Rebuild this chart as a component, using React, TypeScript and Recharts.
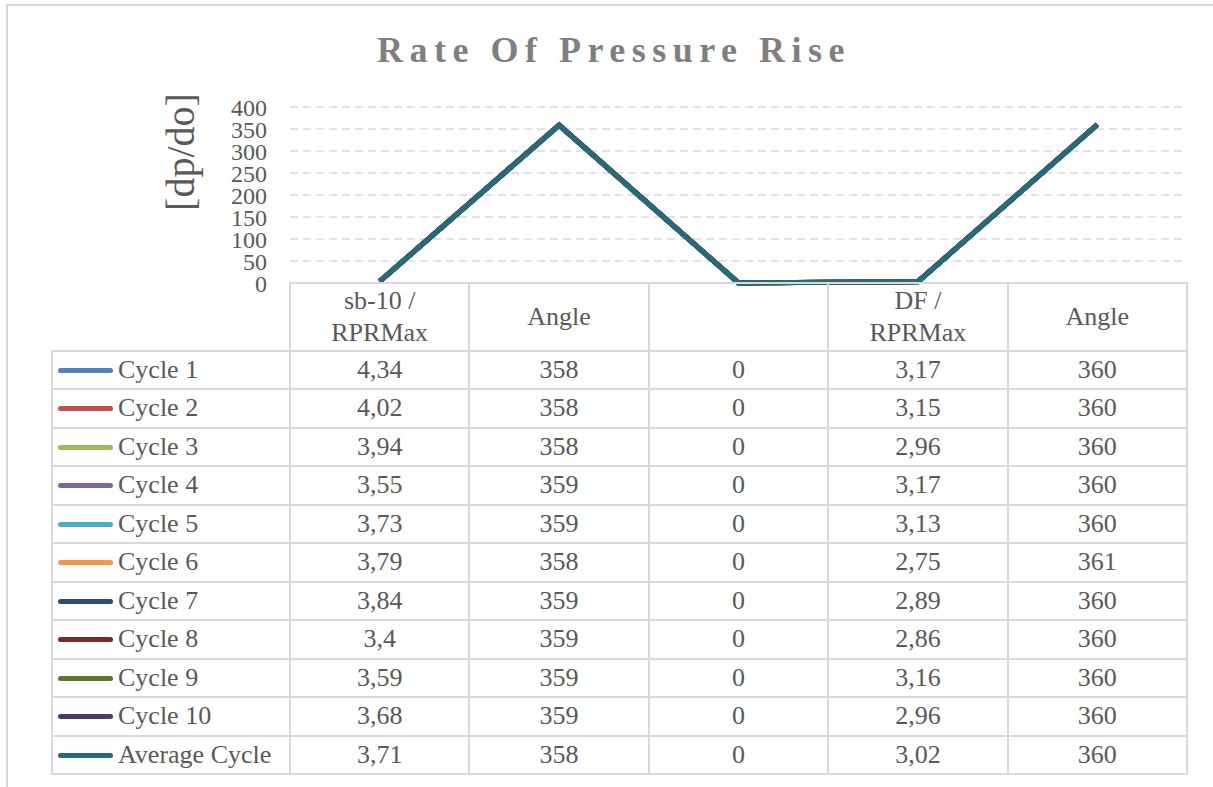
import React from "react";
import { LineChart, Line, XAxis, YAxis, CartesianGrid } from "recharts";

const categories = ["sb-10 / RPRMax", "Angle", "", "DF / RPRMax", "Angle"];
const seriesNames = [
  "Cycle 1", "Cycle 2", "Cycle 3", "Cycle 4", "Cycle 5", "Cycle 6",
  "Cycle 7", "Cycle 8", "Cycle 9", "Cycle 10", "Average Cycle",
];
const seriesColors = [
  "#4F81BD", "#C0504D", "#9BBB59", "#8064A2", "#4BACC6", "#F79646",
  "#2C4D75", "#772C2A", "#5F7530", "#4D3B62", "#276A7C",
];
const sbValues = [4.34, 4.02, 3.94, 3.55, 3.73, 3.79, 3.84, 3.4, 3.59, 3.68, 3.71];
const angle1Values = [358, 358, 358, 359, 359, 358, 359, 359, 359, 359, 358];
const blankValues = [0, 0, 0, 0, 0, 0, 0, 0, 0, 0, 0];
const dfValues = [3.17, 3.15, 2.96, 3.17, 3.13, 2.75, 2.89, 2.86, 3.16, 2.96, 3.02];
const angle2Values = [360, 360, 360, 360, 360, 361, 360, 360, 360, 360, 360];
const yTicks = [0, 50, 100, 150, 200, 250, 300, 350, 400];

const columns = [sbValues, angle1Values, blankValues, dfValues, angle2Values];

const data = categories.map((cat, ci) => {
  const row: any = { cat };
  seriesNames.forEach((_, si) => {
    row["s" + si] = columns[ci][si];
  });
  return row;
});

const W = 1213;
const H = 787;
const plotLeft = 290;
const plotRight = 1187;
const plotTop = 107;
const plotBottom = 283;
const colW = (plotRight - plotLeft) / categories.length;
const headerBottom = 350.75;
const rowH = 38.5;
const labelLeft = 52;
const FONT = '"Liberation Serif", "Times New Roman", serif';
const TEXT = "#595959";
const BORDER = "#d9d9d9";
const yAxisW = 60;

const fmt = (v: number) => String(v).replace(".", ",");

export default function App() {
  const tableBottom = headerBottom + rowH * seriesNames.length;
  const lines: React.ReactNode[] = [];
  lines.push(
    <div key="h-axis" style={{ position: "absolute", left: plotLeft, top: plotBottom - 1, width: plotRight - plotLeft + 1, height: 2, background: BORDER }} />
  );
  for (let i = 0; i <= seriesNames.length; i++) {
    const y = headerBottom + rowH * i;
    lines.push(
      <div key={"h" + i} style={{ position: "absolute", left: labelLeft, top: y - 1, width: plotRight - labelLeft + 1, height: 2, background: BORDER }} />
    );
  }
  lines.push(
    <div key="v-left" style={{ position: "absolute", left: labelLeft - 1, top: headerBottom - 1, width: 2, height: tableBottom - headerBottom + 2, background: BORDER }} />
  );
  for (let j = 0; j <= categories.length; j++) {
    const x = plotLeft + colW * j;
    lines.push(
      <div key={"v" + j} style={{ position: "absolute", left: x - 1, top: plotBottom - 1, width: 2, height: tableBottom - plotBottom + 2, background: BORDER }} />
    );
  }

  return (
    <div style={{ position: "absolute", left: 0, top: 0, width: W, height: H, overflow: "hidden", background: "#fff", fontFamily: FONT, color: TEXT }}>
      <div style={{ position: "absolute", left: 6, top: 4, width: W + 50, height: H + 50, border: "2px solid " + BORDER }} />
      <div style={{ position: "absolute", left: 0, width: 1228, top: 28, textAlign: "center", fontSize: 36, fontWeight: "bold", letterSpacing: 6.5, color: "#7f7f7f", lineHeight: "44px", whiteSpace: "nowrap" }}>
        Rate Of Pressure Rise
      </div>
      <div style={{ position: "absolute", left: 181 - 100, top: 152 - 25, width: 200, height: 50, lineHeight: "50px", textAlign: "center", fontSize: 40, transform: "rotate(-90deg)", color: TEXT }}>
        [dp/do]
      </div>
      <div style={{ position: "absolute", left: 0, top: 0 }}>
        <LineChart
          width={W}
          height={H}
          data={data}
          margin={{ top: plotTop, right: W - plotRight, bottom: H - plotBottom, left: plotLeft - yAxisW }}
        >
          <CartesianGrid vertical={false} stroke={BORDER} strokeDasharray="8 5" strokeWidth={1.5} />
          <XAxis dataKey="cat" hide padding={{ left: colW / 2, right: colW / 2 }} />
          <YAxis
            width={yAxisW}
            domain={[0, 400]}
            ticks={yTicks}
            interval={0}
            axisLine={false}
            tickLine={false}
            tickMargin={17}
            tick={{ fill: TEXT, fontSize: 24, fontFamily: FONT }}
          />
          {seriesNames.map((name, si) => (
            <Line
              key={name}
              dataKey={"s" + si}
              name={name}
              stroke={seriesColors[si]}
              strokeWidth={5}
              dot={false}
              isAnimationActive={false}
            />
          ))}
        </LineChart>
      </div>
      {lines}
      {categories.map((cat, ci) => (
        <div key={"hdr" + ci} style={{ position: "absolute", left: plotLeft + colW * ci, top: plotBottom, width: colW, height: headerBottom - plotBottom, display: "flex", alignItems: "center", justifyContent: "center", textAlign: "center", fontSize: 26, lineHeight: "32px", whiteSpace: "pre-line" }}>
          {cat.replace(" / ", " /\n")}
        </div>
      ))}
      {seriesNames.map((name, si) => {
        const top = headerBottom + rowH * si;
        return (
          <React.Fragment key={"row" + si}>
            <div style={{ position: "absolute", left: 58, top: top + rowH / 2 - 2.5, width: 55, height: 5, borderRadius: 3, background: seriesColors[si] }} />
            <div style={{ position: "absolute", left: 118, top, height: rowH, lineHeight: rowH + "px", fontSize: 26, whiteSpace: "nowrap" }}>
              {name}
            </div>
            {columns.map((col, ci) => (
              <div key={ci} style={{ position: "absolute", left: plotLeft + colW * ci, top, width: colW, height: rowH, lineHeight: rowH + "px", textAlign: "center", fontSize: 26 }}>
                {fmt(col[si])}
              </div>
            ))}
          </React.Fragment>
        );
      })}
    </div>
  );
}
